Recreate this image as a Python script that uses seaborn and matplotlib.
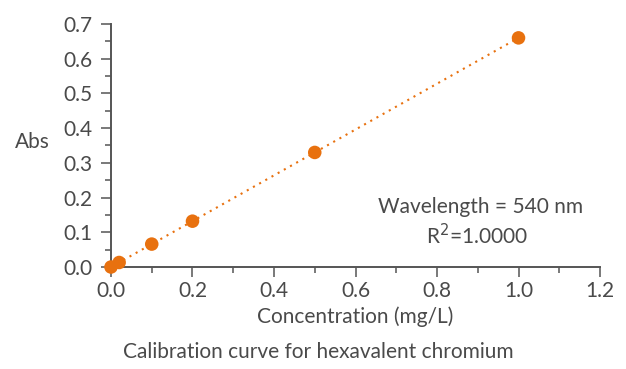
import matplotlib
matplotlib.use("Agg")
import matplotlib.pyplot as plt
import seaborn as sns
import pandas as pd
from matplotlib.ticker import MultipleLocator

# Calibration standards for hexavalent chromium
concentration = [0.0, 0.02, 0.1, 0.2, 0.5, 1.0]
absorbance = [0.000, 0.013, 0.066, 0.132, 0.330, 0.660]

x_ticks = [0.0, 0.2, 0.4, 0.6, 0.8, 1.0, 1.2]
y_ticks = [0.0, 0.1, 0.2, 0.3, 0.4, 0.5, 0.6, 0.7]

df = pd.DataFrame({"conc": concentration, "abs": absorbance})

sns.set_theme(style="ticks")
plt.rcParams["font.family"] = ["Lato", "DejaVu Sans"]

text_color = "#4a4a4a"
axis_color = "#555555"
orange = "#e8710f"
fs = 15

fig = plt.figure(figsize=(6.26, 3.69), dpi=100)
ax = fig.add_axes([0.1773, 0.2764, 0.7812, 0.6586])

sns.lineplot(data=df, x="conc", y="abs", ax=ax, color=orange,
             linestyle=(0, (1, 2.4)), linewidth=1.5, zorder=2)
sns.scatterplot(data=df, x="conc", y="abs", ax=ax, color=orange,
                s=95, edgecolor="none", zorder=3, clip_on=False)

ax.set_xlim(0, 1.2)
ax.set_ylim(0, 0.7)
ax.set_xticks(x_ticks)
ax.set_yticks(y_ticks)
ax.set_xticklabels([f"{v:.1f}" for v in x_ticks])
ax.set_yticklabels([f"{v:.1f}" for v in y_ticks])
ax.xaxis.set_minor_locator(MultipleLocator(0.1))
ax.yaxis.set_minor_locator(MultipleLocator(0.05))

for side in ("top", "right"):
    ax.spines[side].set_visible(False)
for side in ("left", "bottom"):
    ax.spines[side].set_color(axis_color)
    ax.spines[side].set_linewidth(1.4)
    ax.spines[side].set_zorder(1)

ax.tick_params(axis="both", which="major", length=7, width=1.1,
               color=axis_color, labelcolor=text_color, labelsize=fs, pad=3)
ax.tick_params(axis="y", which="major", pad=6)
ax.tick_params(axis="both", which="minor", length=4, width=1.1,
               color=axis_color)

ax.set_xlabel("Concentration (mg/L)", fontsize=fs, color=text_color, labelpad=4)
ax.set_ylabel("Abs", fontsize=fs, color=text_color, rotation=0,
              ha="center", va="center")
ax.yaxis.set_label_coords(-0.16, 0.514)

ax.text(0.755, 0.247, "Wavelength = 540 nm", transform=ax.transAxes,
        ha="center", va="center", fontsize=fs, color=text_color)
ax.text(0.748, 0.128, "R$^2$=1.0000", transform=ax.transAxes,
        ha="center", va="center", fontsize=fs, color=text_color)

fig.text(0.508, 0.046, "Calibration curve for hexavalent chromium",
         ha="center", va="center", fontsize=fs, color=text_color)

fig.savefig("out.png", dpi=100, facecolor="white")
